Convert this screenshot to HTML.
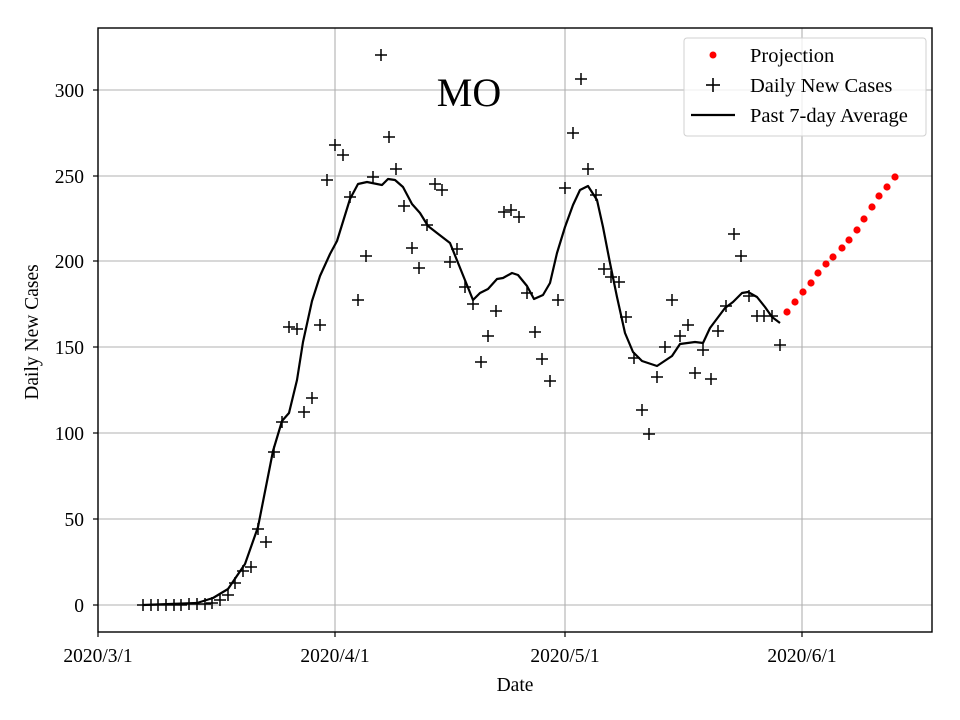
<!DOCTYPE html>
<html><head><meta charset="utf-8"><style>body{margin:0;background:#fff}svg{display:block}text{font-family:"Liberation Serif",serif;fill:#000}</style></head>
<body>
<svg width="960" height="720" viewBox="0 0 960 720" xmlns="http://www.w3.org/2000/svg">
<rect width="960" height="720" fill="#fff"/>
<g stroke="#b0b0b0" stroke-width="1.1">
<line x1="98" y1="605" x2="932" y2="605"/><line x1="98" y1="519" x2="932" y2="519"/><line x1="98" y1="433" x2="932" y2="433"/><line x1="98" y1="347" x2="932" y2="347"/><line x1="98" y1="261" x2="932" y2="261"/><line x1="98" y1="176" x2="932" y2="176"/><line x1="98" y1="90" x2="932" y2="90"/>
<line x1="98" y1="28" x2="98" y2="632"/><line x1="335" y1="28" x2="335" y2="632"/><line x1="565" y1="28" x2="565" y2="632"/><line x1="802" y1="28" x2="802" y2="632"/>
</g>
<text x="469" y="106" font-size="40" text-anchor="middle">MO</text>
<polyline fill="none" stroke="#000" stroke-width="2.2" stroke-linejoin="round" points="143,605 197,603 213,598 228,589 245,564 258,527 273,451 282,421 289,413 297,380 303,342 312,301 320,276 330,254 337,241 350,199 358,184 367,182 382,185 388,179 395,180 403,187 412,204 420,213 428,226 437,233 450,243 473,300 480,293 488,289 497,279 503,278 512,273 518,275 527,286 534,299 543,295 550,283 557,253 565,227 573,205 580,190 588,186 597,200 603,227 610,263 617,297 625,333 633,352 642,361 657,366 672,356 680,344 695,342 703,343 710,328 725,308 733,302 742,293 748,292 757,297 765,307 772,317 780,323"/>
<path stroke="#000" stroke-width="1.5" fill="none" d="M137 605h12M143 599v12M145 605h12M151 599v12M152 605h12M158 599v12M160 605h12M166 599v12M168 605h12M174 599v12M175 605h12M181 599v12M183 604h12M189 598v12M191 604h12M197 598v12M199 604h12M205 598v12M206 603h12M212 597v12M214 600h12M220 594v12M222 595h12M228 589v12M229 583h12M235 577v12M237 571h12M243 565v12M245 567h12M251 561v12M252 529h12M258 523v12M260 542h12M266 536v12M268 452h12M274 446v12M276 422h12M282 416v12M283 327h12M289 321v12M291 329h12M297 323v12M298 412h12M304 406v12M306 398h12M312 392v12M314 325h12M320 319v12M321 180h12M327 174v12M329 145h12M335 139v12M337 155h12M343 149v12M344 197h12M350 191v12M352 300h12M358 294v12M360 256h12M366 250v12M367 177h12M373 171v12M375 55h12M381 49v12M383 137h12M389 131v12M390 169h12M396 163v12M398 206h12M404 200v12M406 248h12M412 242v12M413 268h12M419 262v12M421 225h12M427 219v12M429 184h12M435 178v12M436 190h12M442 184v12M444 262h12M450 256v12M451 249h12M457 243v12M459 287h12M465 281v12M467 304h12M473 298v12M475 362h12M481 356v12M482 336h12M488 330v12M490 311h12M496 305v12M498 212h12M504 206v12M505 210h12M511 204v12M513 217h12M519 211v12M521 293h12M527 287v12M529 332h12M535 326v12M536 359h12M542 353v12M544 381h12M550 375v12M552 300h12M558 294v12M559 188h12M565 182v12M567 133h12M573 127v12M575 79h12M581 73v12M582 169h12M588 163v12M590 195h12M596 189v12M598 269h12M604 263v12M605 277h12M611 271v12M613 282h12M619 276v12M620 317h12M626 311v12M628 358h12M634 352v12M636 410h12M642 404v12M643 434h12M649 428v12M651 377h12M657 371v12M659 347h12M665 341v12M666 300h12M672 294v12M674 336h12M680 330v12M682 325h12M688 319v12M689 373h12M695 367v12M697 350h12M703 344v12M705 379h12M711 373v12M712 331h12M718 325v12M720 306h12M726 300v12M728 234h12M734 228v12M735 256h12M741 250v12M743 296h12M749 290v12M751 316h12M757 310v12M758 316h12M764 310v12M766 316h12M772 310v12M774 345h12M780 339v12"/>
<g fill="#ff0000">
<circle cx="787" cy="312" r="3.6"/><circle cx="795" cy="302" r="3.6"/><circle cx="803" cy="292" r="3.6"/><circle cx="811" cy="283" r="3.6"/><circle cx="818" cy="273" r="3.6"/><circle cx="826" cy="264" r="3.6"/><circle cx="833" cy="257" r="3.6"/><circle cx="842" cy="248" r="3.6"/><circle cx="849" cy="240" r="3.6"/><circle cx="857" cy="230" r="3.6"/><circle cx="864" cy="219" r="3.6"/><circle cx="872" cy="207" r="3.6"/><circle cx="879" cy="196" r="3.6"/><circle cx="887" cy="187" r="3.6"/><circle cx="895" cy="177" r="3.6"/>
</g>
<rect x="98" y="28" width="834" height="604" stroke="#000" stroke-width="1.4" fill="none"/>
<g stroke="#000" stroke-width="1.2">
<line x1="93" y1="605" x2="98" y2="605"/><line x1="93" y1="519" x2="98" y2="519"/><line x1="93" y1="433" x2="98" y2="433"/><line x1="93" y1="347" x2="98" y2="347"/><line x1="93" y1="261" x2="98" y2="261"/><line x1="93" y1="176" x2="98" y2="176"/><line x1="93" y1="90" x2="98" y2="90"/>
<line x1="98" y1="632" x2="98" y2="637"/><line x1="335" y1="632" x2="335" y2="637"/><line x1="565" y1="632" x2="565" y2="637"/><line x1="802" y1="632" x2="802" y2="637"/>
</g>
<g font-size="19.5" text-anchor="end">
<text x="84" y="612">0</text><text x="84" y="526">50</text><text x="84" y="440">100</text><text x="84" y="354">150</text><text x="84" y="268">200</text><text x="84" y="183">250</text><text x="84" y="97">300</text>
</g>
<g font-size="19.5" text-anchor="middle">
<text x="98" y="662">2020/3/1</text><text x="335" y="662">2020/4/1</text><text x="565" y="662">2020/5/1</text><text x="802" y="662">2020/6/1</text>
<text x="515" y="691">Date</text>
<text transform="translate(38,332) rotate(-90)">Daily New Cases</text>
</g>
<rect x="684" y="38" width="242" height="98" rx="3" fill="#fff" fill-opacity="0.8" stroke="#d0d0d0"/>
<circle cx="713" cy="55" r="3.5" fill="#ff0000"/>
<g stroke="#000" stroke-width="1.6"><line x1="706" y1="85" x2="720" y2="85"/><line x1="713" y1="78" x2="713" y2="92"/></g>
<line x1="691" y1="115" x2="735" y2="115" stroke="#000" stroke-width="2.2"/>
<g font-size="20.5"><text x="750" y="62">Projection</text><text x="750" y="92">Daily New Cases</text><text x="750" y="122">Past 7-day Average</text></g>
</svg>
</body></html>
